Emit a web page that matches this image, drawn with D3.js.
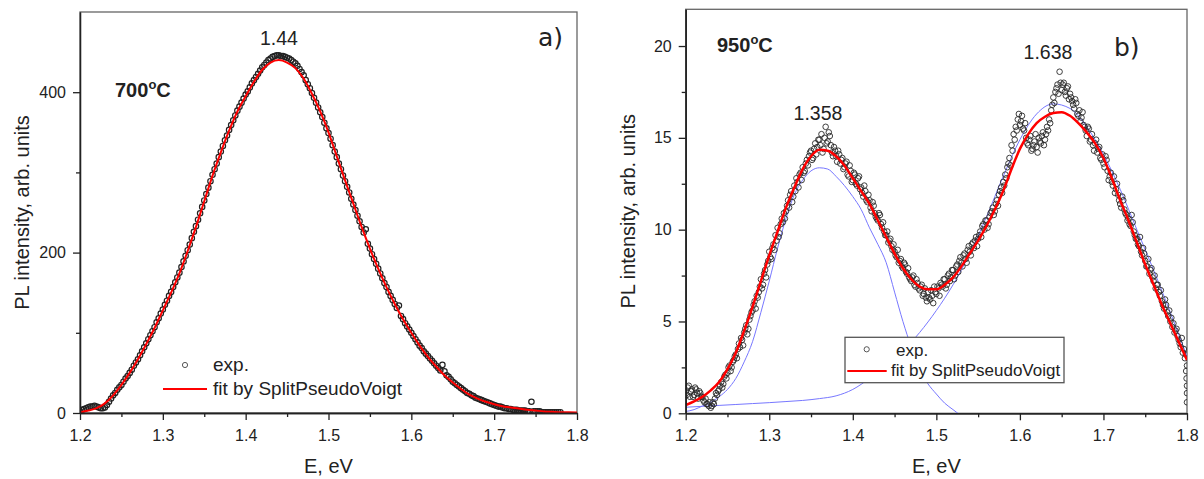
<!DOCTYPE html>
<html>
<head>
<meta charset="utf-8">
<script src="https://cdn.jsdelivr.net/npm/d3@7"></script>
<style>
body { margin: 0; background: #fff; }
svg text { font-family: "Liberation Sans", Arial, sans-serif; fill: #222; }
</style>
</head>
<body>
<div id="chart"></div>
<script>
// ---- data ----
// energy grid for the experimental points: 1.200, 1.2025, ... eV
const expStep = 0.0025;

// panel a) 700 C, experimental points
const expA = [
	2, 4, 5, 6, 7, 8, 8, 9, 8, 7, 6, 6, 7, 10, 14, 18,
	22, 25, 29, 32, 35, 39, 43, 46, 50, 54, 59, 63, 67, 72, 77, 82,
	87, 92, 97, 102, 107, 113, 118, 124, 129, 135, 140, 146, 151, 157, 163, 169,
	175, 182, 189, 196, 203, 210, 218, 226, 233, 241, 249, 257, 265, 273, 281, 289,
	297, 304, 311, 319, 326, 333, 340, 346, 353, 359, 365, 371, 377, 382, 387, 392,
	397, 401, 406, 411, 415, 419, 423, 427, 431, 434, 437, 440, 442, 444, 445, 446,
	446, 445, 445, 444, 443, 442, 440, 438, 436, 433, 429, 425, 421, 415, 410, 405,
	399, 393, 387, 381, 375, 369, 362, 355, 349, 342, 334, 326, 319, 311, 304, 296,
	289, 282, 275, 267, 260, 253, 246, 239, 232, 225, 229, 211, 205, 198, 192, 186,
	180, 174, 168, 162, 157, 151, 146, 141, 136, 131, 134, 121, 117, 112, 108, 104,
	100, 96, 92, 88, 84, 81, 77, 74, 71, 68, 65, 62, 59, 56, 53, 60,
	52, 47, 45, 42, 39, 37, 35, 33, 31, 29, 27, 25, 24, 22, 21, 19,
	18, 17, 16, 15, 14, 13, 12, 11, 10, 9, 8, 8, 7, 6, 6, 5,
	5, 4, 4, 4, 3, 3, 3, 3, 2, 2, 14, 2, 2, 2, 2, 1,
	1, 1, 1, 1, 1, 1, 1, 1, 1
];

// panel a) fit, every 0.01 eV from 1.20 to 1.80
const fitStep = 0.01;
const fitA = [
	1, 3, 6, 12, 22, 35, 50, 67, 86, 106,
	128, 150, 174, 202, 232, 264, 296, 325, 352, 376,
	395, 413, 428, 437, 440, 437, 430, 417, 398, 376,
	350, 320, 290, 261, 232, 205, 180, 157, 136, 117,
	100, 84, 70, 58, 47, 38, 30, 23, 18, 14,
	11, 8.5, 7, 5.5, 4, 3, 2, 1.5, 1, 0.8, 0.5
];

// panel b) 950 C, experimental points (grid starting at 1.200)
const expB = [
	1.2, 1.4, 0.9, 1.3, 1.0, 1.3, 0.8, 1.1, 0.9, 0.6, 0.5, 0.4, 0.3, 0.6, 0.8, 1.0,
	1.3, 1.7, 1.6, 2.1, 2.2, 2.6, 2.5, 2.9, 3.2, 3.5, 3.6, 4.0, 4.4, 4.8, 4.6, 5.3,
	5.6, 6.1, 6.4, 6.6, 7.3, 7.0, 7.8, 8.1, 8.8, 8.4, 9.2, 9.7, 10.1, 9.8, 10.6, 10.9,
	11.0, 11.6, 11.9, 11.5, 12.4, 12.8, 12.3, 13.1, 13.4, 13.2, 13.8, 14.0, 14.3, 13.9, 14.7, 14.5,
	14.9, 15.2, 14.4, 15.6, 14.8, 15.1, 14.2, 14.5, 14.0, 14.3, 13.6, 13.9, 13.4, 13.7, 12.9, 13.2,
	12.7, 13.0, 12.4, 12.9, 12.3, 11.8, 12.1, 11.5, 11.6, 11.0, 11.3, 10.7, 10.5, 10.8, 10.1, 9.9,
	9.7, 9.3, 9.5, 8.9, 8.8, 8.5, 8.2, 8.4, 7.9, 8.1, 7.6, 7.4, 7.2, 7.5, 6.9, 7.1,
	6.7, 7.0, 6.5, 6.3, 6.6, 6.2, 6.4, 6.9, 6.5, 6.8, 7.1, 6.9, 7.3, 7.0, 7.6, 7.4,
	7.8, 7.5, 8.1, 8.3, 8.2, 8.6, 8.4, 8.9, 8.8, 9.2, 9.0, 9.6, 9.5, 9.9, 10.2, 10.0,
	10.5, 10.3, 10.9, 11.2, 11.0, 11.6, 11.9, 12.3, 12.6, 13.0, 13.4, 13.9, 14.6, 15.2, 15.6, 16.0,
	15.7, 16.2, 15.4, 15.0, 14.6, 15.1, 14.4, 14.8, 14.5, 15.0, 14.7, 15.3, 14.9, 15.6, 16.0, 16.5,
	17.2, 17.5, 17.9, 18.6, 17.6, 18.0, 17.3, 17.8, 17.4, 17.0, 16.6, 16.9, 16.2, 15.9, 16.4, 15.6,
	15.1, 15.5, 14.9, 14.6, 14.7, 14.2, 14.5, 13.8, 13.6, 14.0, 13.2, 12.9, 12.6, 12.9, 12.2, 11.9,
	11.4, 11.8, 11.1, 10.8, 10.6, 10.2, 10.4, 9.7, 9.5, 9.1, 8.8, 9.0, 8.3, 8.0, 7.6, 7.9,
	7.2, 6.8, 7.0, 6.4, 6.1, 5.7, 5.9, 5.3, 5.0, 4.7, 4.4, 4.6, 4.0, 3.6, 3.3, 3.0,
	2.6
];
// panel b) in-between points (grid starting at 1.20125)
const expB2 = [
	1.0, 1.5, 1.2, 0.9, 1.4, 1.1, 1.2, 0.9, 0.7, 0.8, 0.5, 0.6, 0.4, 0.5, 1.1, 1.2,
	1.5, 1.4, 2.0, 1.9, 2.5, 2.3, 2.8, 3.1, 3.0, 3.8, 4.1, 3.7, 4.6, 4.3, 5.1, 5.5,
	5.9, 5.7, 6.3, 6.9, 6.8, 7.6, 7.4, 8.3, 8.5, 9.0, 8.9, 9.4, 9.6, 10.3, 10.4, 10.6,
	11.3, 11.2, 12.1, 11.8, 12.1, 12.6, 13.0, 12.7, 13.1, 13.6, 13.5, 14.2, 13.8, 14.4, 14.1, 14.9,
	14.6, 14.2, 15.0, 14.7, 15.3, 14.6, 14.0, 14.3, 13.7, 14.1, 13.8, 13.3, 13.6, 13.0, 13.5, 12.6,
	13.1, 12.5, 12.8, 12.2, 12.0, 12.4, 11.6, 11.9, 11.2, 11.5, 10.9, 10.6, 10.9, 10.3, 10.4, 9.7,
	9.9, 9.4, 9.1, 9.2, 8.6, 8.9, 8.3, 8.0, 8.2, 7.7, 7.9, 7.3, 7.4, 7.0, 7.3, 6.8,
	6.9, 6.4, 6.8, 6.1, 6.3, 6.7, 6.0, 6.6, 6.9, 6.4, 7.0, 7.3, 6.8, 7.5, 7.2, 7.8,
	7.3, 8.0, 7.7, 8.5, 8.0, 8.7, 8.2, 9.1, 8.6, 9.3, 9.4, 9.1, 9.7, 9.6, 10.3, 10.5,
	10.1, 10.7, 11.0, 10.8, 11.4, 11.3, 12.1, 12.0, 12.4, 12.8, 13.6, 13.5, 14.3, 14.9, 15.4, 16.3,
	15.9, 15.5, 15.8, 14.7, 14.9, 14.3, 14.6, 15.2, 14.2, 14.8, 15.1, 14.6, 15.2, 15.4, 15.8, 16.8,
	16.9, 17.7, 17.4, 18.0, 17.9, 17.5, 17.7, 17.1, 17.2, 16.8, 17.1, 16.3, 16.5, 16.1, 15.7, 15.4,
	15.6, 14.8, 15.2, 14.3, 14.9, 14.4, 13.9, 14.1, 13.4, 13.8, 12.7, 13.1, 12.4, 12.0, 12.5, 11.6,
	11.2, 11.6, 10.9, 10.5, 10.3, 10.8, 9.9, 9.5, 9.2, 9.6, 8.6, 8.7, 8.0, 8.4, 7.8, 7.4,
	7.5, 7.0, 6.6, 6.7, 5.9, 6.2, 5.5, 5.6, 5.2, 4.9, 4.5, 4.2, 3.8, 4.1, 3.5, 3.2
];
// the column of points sitting on the right edge
const tailE = [1.799, 1.7995, 1.8, 1.8, 1.8];
const tailB = [2.3, 1.9, 1.5, 1.1, 0.6];

// panel b) total fit, every 0.01 eV from 1.20 to 1.80
const fitB = [
	0.45, 0.65, 0.9, 1.25, 1.7, 2.4, 3.3, 4.5, 5.8, 7.2,
	8.6, 9.9, 11.2, 12.3, 13.3, 14.0, 14.35, 14.3, 14.0, 13.5,
	12.8, 12.1, 11.4, 10.5, 9.6, 8.7, 7.9, 7.3, 6.9, 6.75,
	6.75, 7.0, 7.4, 8.0, 8.7, 9.4, 10.2, 11.1, 12.1, 13.3,
	14.4, 15.2, 15.8, 16.15, 16.35, 16.4, 16.2, 15.8, 15.3, 14.7,
	13.9, 12.8, 11.6, 10.5, 9.3, 8.1, 7.0, 5.9, 4.9, 3.9, 2.9
];
// panel b) first component, every 0.01 eV from 1.20 to 1.53
const peak1B = [
	0.1, 0.2, 0.4, 0.6, 0.9, 1.3, 1.9, 2.8, 3.9, 5.5,
	7.2, 9.0, 10.6, 11.9, 12.7, 13.2, 13.37, 13.3, 12.9, 12.4,
	11.8, 11.1, 10.1, 9.2, 8.2, 6.6, 5.0, 3.6, 2.35, 1.6,
	1.05, 0.55, 0.2, -0.15
];
// panel b) second component, every 0.02 eV from 1.20 to 1.80
const peak2Step = 0.02;
const peak2B = [
	0.33, 0.38, 0.43, 0.48, 0.53, 0.58, 0.64, 0.7, 0.8, 0.95,
	1.3, 1.9, 2.6, 3.4, 4.4, 5.6, 7.0, 8.7, 10.7, 12.9,
	14.9, 16.3, 16.85, 16.6, 15.6, 14.1, 12.2, 10.0, 7.8, 5.5, 3.1
];

const xTicks = [1.2, 1.3, 1.4, 1.5, 1.6, 1.7, 1.8];
const xMinor = [1.25, 1.35, 1.45, 1.55, 1.65, 1.75];
const yTicksA = [0, 200, 400];
const yMinorA = [100, 300];
const yTicksB = [0, 5, 10, 15, 20];
const yMinorB = [2.5, 7.5, 12.5, 17.5];

const grid = (arr, step, start = 1.2) => arr.map((v, i) => [start + i * step, v]);

// ---- drawing ----
const svg = d3.select("#chart").append("svg")
	.attr("width", 1204)
	.attr("height", 479);

function drawPanel(p) {
	const x = d3.scaleLinear().domain([1.2, 1.8]).range([p.left, p.right]);
	const y = d3.scaleLinear().domain(p.yDomain).range([p.bottom, p.top]);
	const g = svg.append("g");

	g.append("clipPath").attr("id", p.id)
		.append("rect")
		.attr("x", p.left).attr("y", p.top)
		.attr("width", p.right - p.left).attr("height", p.bottom - p.top);

	// frame
	g.append("rect")
		.attr("x", p.left).attr("y", p.top)
		.attr("width", p.right - p.left).attr("height", p.bottom - p.top)
		.attr("fill", "none").attr("stroke", "#666").attr("stroke-width", 1.3);

	const plot = g.append("g").attr("clip-path", `url(#${p.id})`);
	const line = d3.line().x(d => x(d[0])).y(d => y(d[1])).curve(d3.curveMonotoneX);

	(p.components || []).forEach(c => {
		plot.append("path").datum(c)
			.attr("d", line)
			.attr("fill", "none")
			.attr("stroke", "#7777ff")
			.attr("stroke-width", 1);
	});

	plot.append("g").selectAll("circle")
		.data(p.points)
		.join("circle")
		.attr("cx", d => x(d[0]))
		.attr("cy", d => y(d[1]))
		.attr("r", p.r)
		.attr("fill", "none")
		.attr("stroke", p.pointColor)
		.attr("stroke-width", p.pointWidth);

	plot.append("path").datum(p.fit)
		.attr("d", line)
		.attr("fill", "none")
		.attr("stroke", "#ff0000")
		.attr("stroke-width", p.fitWidth);

	// axes
	g.append("g").attr("transform", `translate(0,${p.bottom})`)
		.call(d3.axisBottom(x).tickValues(xTicks).tickSize(7).tickSizeOuter(0)
			.tickPadding(9.5).tickFormat(d3.format(".1f")));
	g.append("g").attr("transform", `translate(0,${p.bottom})`)
		.call(d3.axisBottom(x).tickValues(xMinor).tickSize(4).tickSizeOuter(0).tickFormat(""));
	g.append("g").attr("transform", `translate(${p.left},0)`)
		.call(d3.axisLeft(y).tickValues(p.yTicks).tickSize(7).tickSizeOuter(0).tickPadding(7));
	g.append("g").attr("transform", `translate(${p.left},0)`)
		.call(d3.axisLeft(y).tickValues(p.yMinor).tickSize(4).tickSizeOuter(0).tickFormat(""));

	g.selectAll(".domain, .tick line").attr("stroke", "#222").attr("stroke-width", 1.3);
	g.selectAll(".tick text").attr("font-size", 16).attr("fill", "#222")
		.attr("font-family", "'Liberation Sans', Arial, sans-serif");

	// titles
	g.append("text")
		.attr("transform", `translate(${p.left - 51},${(p.top + p.bottom) / 2}) rotate(-90)`)
		.attr("text-anchor", "middle").attr("font-size", 20)
		.text("PL intensity, arb. units");
	g.append("text")
		.attr("x", (p.left + p.right) / 2).attr("y", 473)
		.attr("text-anchor", "middle").attr("font-size", 20)
		.text("E, eV");

	// temperature label
	const t = g.append("text")
		.attr("x", p.tempPos[0]).attr("y", p.tempPos[1])
		.attr("font-size", 20).attr("font-weight", "bold");
	t.append("tspan").text(p.temp);
	t.append("tspan").attr("font-size", 13).attr("dy", -8).text("o");
	t.append("tspan").attr("dy", 8).text("C");

	// peak positions
	p.peaks.forEach(k => {
		g.append("text")
			.attr("x", k.x).attr("y", k.y)
			.attr("text-anchor", "middle").attr("font-size", 19.5)
			.text(k.label);
	});

	// panel letter
	g.append("text")
		.attr("x", p.letterPos[0]).attr("y", p.letterPos[1])
		.attr("font-size", 25)
		.style("font-family", "'DejaVu Sans', Verdana, sans-serif")
		.text(p.letter);

	// legend
	const lg = p.legend;
	if (lg.box) {
		g.append("rect")
			.attr("x", lg.box[0]).attr("y", lg.box[1])
			.attr("width", lg.box[2]).attr("height", lg.box[3])
			.attr("fill", "#fff").attr("stroke", "#555").attr("stroke-width", 1.3);
	}
	g.append("circle")
		.attr("cx", lg.circle[0]).attr("cy", lg.circle[1]).attr("r", 2.6)
		.attr("fill", "none").attr("stroke", "#444").attr("stroke-width", 0.9);
	g.append("text").attr("x", lg.textX).attr("y", lg.y1)
		.attr("font-size", lg.size).text("exp.");
	g.append("line")
		.attr("x1", lg.line[0]).attr("x2", lg.line[1])
		.attr("y1", lg.line[2]).attr("y2", lg.line[2])
		.attr("stroke", "#ff0000").attr("stroke-width", 2);
	g.append("text").attr("x", lg.fitX).attr("y", lg.y2)
		.attr("font-size", lg.size).text("fit by SplitPseudoVoigt");
}

drawPanel({
	id: "clipA",
	left: 80, right: 577, top: 12, bottom: 413,
	yDomain: [0, 500], yTicks: yTicksA, yMinor: yMinorA,
	points: grid(expA, expStep), r: 2.7, pointColor: "#222", pointWidth: 1.2,
	fit: grid(fitA, fitStep), fitWidth: 2,
	temp: "700", tempPos: [115, 97],
	peaks: [{ label: "1.44", x: 279, y: 45 }],
	letter: "a)", letterPos: [538, 46],
	legend: {
		circle: [185, 365], textX: 213, y1: 371, y2: 395, size: 19,
		line: [163, 207, 389], fitX: 213
	}
});

drawPanel({
	id: "clipB",
	left: 685.7, right: 1187, top: 9.3, bottom: 413.3,
	yDomain: [0, 22], yTicks: yTicksB, yMinor: yMinorB,
	points: grid(expB, expStep)
		.concat(grid(expB2, expStep, 1.20125))
		.concat(tailE.map((e, i) => [e, tailB[i]])),
	r: 2.8, pointColor: "#2a2a2a", pointWidth: 0.9,
	fit: grid(fitB, fitStep), fitWidth: 2.5,
	components: [grid(peak1B, fitStep), grid(peak2B, peak2Step)],
	temp: "950", tempPos: [717, 52],
	peaks: [{ label: "1.358", x: 818, y: 120 }, { label: "1.638", x: 1048, y: 59 }],
	letter: "b)", letterPos: [1114, 56],
	legend: {
		box: [845, 337.3, 219, 45.4],
		circle: [866.7, 349.3], textX: 896, y1: 356, y2: 376, size: 17,
		line: [847.3, 886.7, 371], fitX: 891
	}
});
</script>
</body>
</html>
